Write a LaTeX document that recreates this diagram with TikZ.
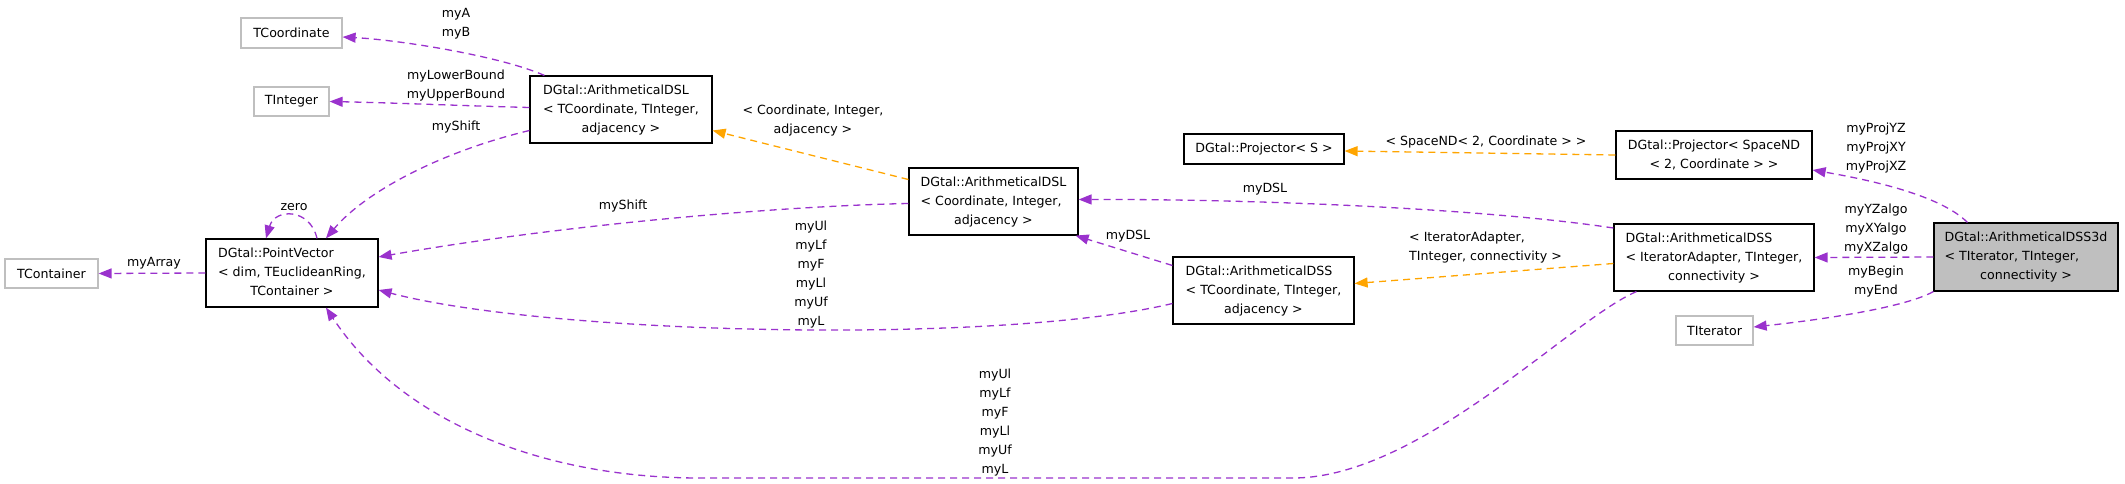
\documentclass[tikz,border=0pt]{standalone}
\usepackage{fontspec}
\setmainfont{DejaVu Sans}
\usetikzlibrary{arrows.meta}
\definecolor{dpurple}{HTML}{9A32CD}
\definecolor{dorange}{HTML}{FFA500}
\definecolor{dgray}{HTML}{BFBFBF}
\newcommand{\dfont}{\fontsize{12.6}{19}\selectfont}
\newcommand{\clsthree}[3]{\begin{tabular}{@{}l@{}}#1\\#2\\\multicolumn{1}{@{}c@{}}{#3}\end{tabular}}
\newcommand{\clstwo}[2]{\begin{tabular}{@{}l@{}}#1\\\multicolumn{1}{@{}c@{}}{#2}\end{tabular}}
\tikzset{
  cbox/.style={draw=black, line width=1.2pt, fill=white, inner sep=0pt, font=\dfont},
  ebox/.style={draw=dgray, line width=1.2pt, fill=white, inner sep=0pt, font=\dfont},
  gbox/.style={draw=black, line width=1.2pt, fill=dgray, inner sep=0pt, font=\dfont},
  rel/.style={draw=dpurple, line width=1.3pt, dash pattern=on 7pt off 5pt, -{Triangle[length=13pt,width=10pt,fill=dpurple]}},
  inh/.style={draw=dorange, line width=1.3pt, dash pattern=on 7pt off 5pt, -{Triangle[length=13pt,width=10pt,fill=dorange]}},
  lbl/.style={font=\dfont, inner sep=0pt, align=center}
}
\begin{document}
\begin{tikzpicture}[x=1pt,y=-1pt]
\useasboundingbox (0,0) rectangle (2125,484);
% nodes
\node[ebox, minimum width=101pt, minimum height=30pt] (tcoord) at (291.5,33) {TCoordinate};
\node[ebox, minimum width=75pt, minimum height=29pt] (tint) at (291.5,101.5) {TInteger};
\node[cbox, minimum width=182pt, minimum height=67pt] (dsl1) at (621,109.5) {\clsthree{DGtal::ArithmeticalDSL}{< TCoordinate, TInteger,}{adjacency >}};
\node[cbox, minimum width=172pt, minimum height=68pt] (pv) at (292,273) {\clsthree{DGtal::PointVector}{< dim, TEuclideanRing,}{TContainer >}};
\node[ebox, minimum width=93pt, minimum height=29pt] (tcont) at (51.5,273.5) {TContainer};
\node[cbox, minimum width=169pt, minimum height=67pt] (dsl2) at (993.5,201.5) {\clsthree{DGtal::ArithmeticalDSL}{< Coordinate, Integer,}{adjacency >}};
\node[cbox, minimum width=181pt, minimum height=67pt] (dss1) at (1263.5,290.5) {\clsthree{DGtal::ArithmeticalDSS}{< TCoordinate, TInteger,}{adjacency >}};
\node[cbox, minimum width=160pt, minimum height=30pt] (projs) at (1264,149) {DGtal::Projector< S >};
\node[cbox, minimum width=196pt, minimum height=48pt] (projnd) at (1714,155) {\clstwo{DGtal::Projector< SpaceND}{< 2, Coordinate > >}};
\node[cbox, minimum width=200pt, minimum height=67pt] (dss2) at (1714,257.5) {\clsthree{DGtal::ArithmeticalDSS}{< IteratorAdapter, TInteger,}{connectivity >}};
\node[gbox, minimum width=184pt, minimum height=68pt] (dss3d) at (2026,257) {\clsthree{DGtal::ArithmeticalDSS3d}{< TIterator, TInteger,}{connectivity >}};
\node[ebox, minimum width=77pt, minimum height=29pt] (titer) at (1714.5,330.5) {TIterator};
% edges
\draw[rel] ([xshift=15pt]dsl1.north west) .. controls (500,56) and (400,40) .. ([yshift=-4pt]tcoord.east);
\draw[rel] ([yshift=2pt]dsl1.west) .. controls (470,106) and (400,103) .. (tint.east);
\draw[rel] ([yshift=-21pt]dsl1.west) .. controls (440,152) and (365,192) .. ([xshift=34pt]pv.north);
\draw[rel] ([xshift=25pt]pv.north) .. controls (310,208) and (275,208) .. ([xshift=-26pt]pv.north);
\draw[rel] (pv.west) -- (tcont.east);
\draw[inh] ([yshift=22pt]dsl2.west) -- ([yshift=-21pt]dsl1.east);
\draw[rel] ([yshift=-2pt]dsl2.west) .. controls (780,206) and (560,225) .. ([yshift=16pt]pv.east);
\draw[rel] ([yshift=25pt]dss1.west) -- ([xshift=-3pt]dsl2.south east);
\draw[rel] ([yshift=-13pt]dss1.west) .. controls (1000,345) and (550,335) .. ([yshift=-17pt]pv.east);
\draw[inh] ([yshift=-6pt]dss2.west) -- ([yshift=7pt]dss1.east);
\draw[rel] ([yshift=29.5pt]dss2.west) .. controls (1480,208) and (1250,199) .. ([yshift=2pt]dsl2.east);
\draw[rel] ([xshift=23pt]dss2.south west) .. controls (1570,320) and (1420,478) .. (1293,478) -- (700,478) .. controls (540,478) and (400,420) .. ([xshift=34pt]pv.south);
\draw[inh] (projnd.west) -- ([yshift=-2pt]projs.east);
\draw[rel] ([xshift=34pt]dss3d.north west) .. controls (1940,195) and (1870,180) .. ([yshift=-15pt]projnd.east);
\draw[rel] (dss3d.west) -- (dss2.east);
\draw[rel] (dss3d.south west) .. controls (1900,310) and (1800,322) .. ([yshift=3.5pt]titer.east);
% labels
\node[lbl] (l1) at (456,24) {myA\\myB};
\node[lbl] (l2) at (456,85.5) {myLowerBound\\myUpperBound};
\node[lbl] (l3) at (456,127) {myShift};
\node[lbl] (l4) at (294,207) {zero};
\node[lbl] (l5) at (154,263) {myArray};
\node[lbl] (l6) at (813,120.5) {< Coordinate, Integer,\\adjacency >};
\node[lbl] (l7) at (623,206) {myShift};
\node[lbl] (l8) at (811,274.5) {myUl\\myLf\\myF\\myLl\\myUf\\myL};
\node[lbl] (l9) at (1128,236) {myDSL};
\node[lbl] (l10) at (1265,189) {myDSL};
\node[lbl] (l11) at (1486,142) {< SpaceND< 2, Coordinate > >};
\node[lbl, align=left, anchor=west] (l12) at (1409,247.5) {< IteratorAdapter,\\TInteger, connectivity >};
\node[lbl] (l13) at (1876,148) {myProjYZ\\myProjXY\\myProjXZ};
\node[lbl] (l14) at (1876,229.5) {myYZalgo\\myXYalgo\\myXZalgo};
\node[lbl] (l15) at (1876,281.5) {myBegin\\myEnd};
\node[lbl] (l16) at (995,422.5) {myUl\\myLf\\myF\\myLl\\myUf\\myL};
\end{tikzpicture}
\end{document}
